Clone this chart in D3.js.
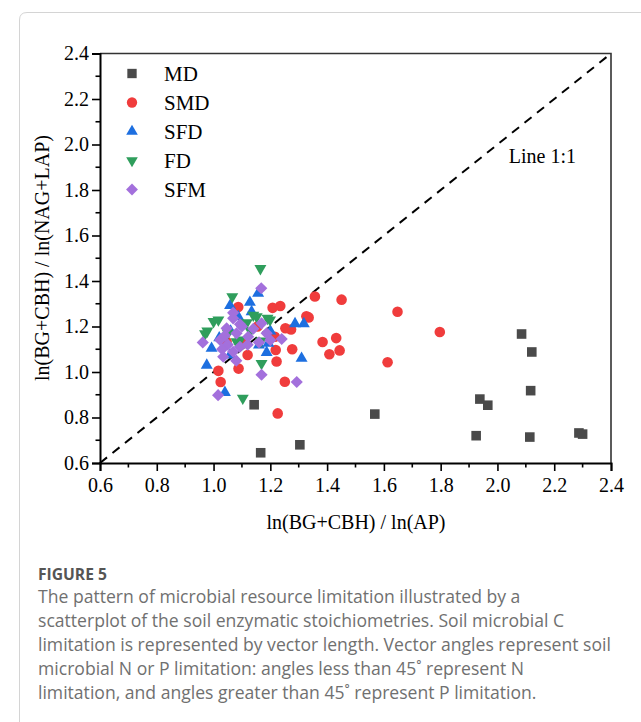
<!DOCTYPE html>
<html><head><meta charset="utf-8">
<script src="https://cdn.jsdelivr.net/npm/d3@7"></script>
<style>body{margin:0;background:#fff}svg{display:block}</style>
</head><body>
<script>
const seriesNames = ["MD","SMD","SFD","FD","SFM"];
const seriesColors = ["#4a4a4a","#f03c3c","#1d6fe0","#2f9e5c","#a370dc"];
const xTicks = [0.6,0.8,1.0,1.2,1.4,1.6,1.8,2.0,2.2,2.4];
const yTicks = [0.6,0.8,1.0,1.2,1.4,1.6,1.8,2.0,2.2,2.4];
const MD_x = [1.166,1.304,1.143,1.568,1.925,1.938,1.966,2.085,2.121,2.117,2.114,2.287,2.300];
const MD_y = [0.645,0.680,0.856,0.815,0.720,0.881,0.854,1.167,1.088,0.918,0.714,0.732,0.727];
const SMD_x = [1.017,1.025,1.088,1.087,1.046,1.120,1.208,1.235,1.327,1.335,1.357,1.451,1.648,1.797,1.432,1.444,1.408,1.613,1.384,1.277,1.219,1.222,1.251,1.226,1.273,1.253,1.216,1.155,1.100];
const SMD_y = [1.005,0.956,1.015,1.286,1.133,1.075,1.282,1.290,1.245,1.240,1.332,1.318,1.265,1.176,1.149,1.095,1.078,1.043,1.132,1.100,1.097,1.046,0.957,0.818,1.187,1.192,1.155,1.200,1.130];
const SFD_x = [0.976,1.040,0.993,1.058,1.128,1.157,1.134,1.287,1.318,1.310,1.187,1.193,1.160,1.058,1.087,1.020,1.200,1.060];
const SFD_y = [1.030,0.910,1.104,1.292,1.306,1.346,1.265,1.212,1.212,1.060,1.086,1.126,1.119,1.075,1.243,1.150,1.180,1.180];
const FD_x = [1.165,1.066,1.017,1.000,0.978,0.970,1.081,1.140,1.152,1.199,1.117,1.093,1.167,1.169,1.103,1.190,1.130,1.050];
const FD_y = [1.455,1.331,1.229,1.222,1.180,1.168,1.133,1.250,1.243,1.229,1.217,1.141,1.136,1.038,0.885,1.236,1.180,1.170];
const SFM_x = [0.962,1.016,1.168,1.169,1.293,1.240,1.169,1.069,1.046,1.081,1.034,1.069,1.122,1.187,1.093,1.023,1.069,1.093,1.100,1.140,1.050,1.080,1.120,1.030,1.160,1.200,1.040];
const SFM_y = [1.130,0.898,1.368,0.988,0.956,1.145,1.214,1.236,1.192,1.170,1.067,1.089,1.155,1.170,1.111,1.141,1.260,1.210,1.200,1.190,1.120,1.050,1.120,1.100,1.130,1.140,1.160];
const captionTitle = "FIGURE 5";
const captionLines = [
 "The pattern of microbial resource limitation illustrated by a",
 "scatterplot of the soil enzymatic stoichiometries. Soil microbial C",
 "limitation is represented by vector length. Vector angles represent soil",
 "microbial N or P limitation: angles less than 45\u02DA represent N",
 "limitation, and angles greater than 45\u02DA represent P limitation."
];

const W = 641, H = 722;
const svg = d3.select("body").append("svg").attr("width", W).attr("height", H);

svg.append("path").attr("d", "M19.5,722 L19.5,20 Q19.5,12.5 27,12.5 L641,12.5")
  .attr("fill","none").attr("stroke","#d4d4d4").attr("stroke-width",1);

const x = d3.scaleLinear().domain([0.6,2.4]).range([100,611]);
const y = d3.scaleLinear().domain([0.6,2.4]).range([463,53.5]);
const serif = "'Liberation Serif','Times New Roman',serif";

svg.append("path").attr("d", `M${x(0.6)},${y(2.4)} L${x(2.4)},${y(2.4)} L${x(2.4)},${y(0.6)}`)
  .attr("fill","none").attr("stroke","#333").attr("stroke-width",1.6);

const minor = d3.range(0.7,2.4,0.2);
const gx = svg.append("g").attr("transform",`translate(0,${y(0.6)})`)
  .call(d3.axisBottom(x).tickValues(xTicks).tickFormat(d3.format(".1f")).tickSize(8).tickPadding(7));
const gy = svg.append("g").attr("transform",`translate(${x(0.6)},0)`)
  .call(d3.axisLeft(y).tickValues(yTicks).tickFormat(d3.format(".1f")).tickSize(8).tickPadding(3));
[gx,gy].forEach(g=>{
  g.select(".domain").attr("stroke","#000").attr("stroke-width",2);
  g.selectAll(".tick line").attr("stroke","#000").attr("stroke-width",1.6);
  g.selectAll("text").attr("font-family",serif).attr("font-size",20).attr("fill","#000");
});
gx.selectAll(".minor").data(minor).enter().append("line").attr("class","minor")
  .attr("x1",d=>x(d)).attr("x2",d=>x(d)).attr("y1",0).attr("y2",4.5).attr("stroke","#000").attr("stroke-width",1.6);
gy.selectAll(".minor").data(minor).enter().append("line").attr("class","minor")
  .attr("y1",d=>y(d)).attr("y2",d=>y(d)).attr("x1",0).attr("x2",-4.5).attr("stroke","#000").attr("stroke-width",1.6);

svg.append("line").attr("x1",x(0.6)).attr("y1",y(0.6)).attr("x2",x(2.4)).attr("y2",y(2.4))
  .attr("stroke","#000").attr("stroke-width",2).attr("stroke-dasharray","9,7");
svg.append("text").attr("x",x(2.04)).attr("y",y(1.92)).attr("font-family",serif).attr("font-size",20).text("Line 1:1");

const shapes = [
  {type:d3.symbolSquare, size:92, rot:0},
  {type:d3.symbolCircle, size:88, rot:0},
  {type:d3.symbolTriangle, size:62, rot:0},
  {type:d3.symbolTriangle, size:62, rot:180},
  {type:d3.symbolSquare, size:74, rot:45}
];
const data = [[MD_x,MD_y],[SMD_x,SMD_y],[SFD_x,SFD_y],[FD_x,FD_y],[SFM_x,SFM_y]];
data.forEach((s,i)=>{
  const pts = s[0].map((v,j)=>({x:v,y:s[1][j]}));
  svg.append("g").selectAll("path").data(pts).enter().append("path")
    .attr("d", d3.symbol().type(shapes[i].type).size(shapes[i].size))
    .attr("transform", d=>`translate(${x(d.x)},${y(d.y)}) rotate(${shapes[i].rot})`)
    .attr("fill", seriesColors[i]);
});

const lg = svg.append("g");
seriesNames.forEach((n,i)=>{
  const yy = 73.5 + i*29;
  lg.append("path").attr("d", d3.symbol().type(shapes[i].type).size(shapes[i].size*0.95))
    .attr("transform",`translate(132,${yy}) rotate(${shapes[i].rot})`).attr("fill",seriesColors[i]);
  lg.append("text").attr("x",164).attr("y",yy+7.5).attr("font-family",serif).attr("font-size",21).text(n);
});

svg.append("text").attr("x",356).attr("y",529).attr("text-anchor","middle")
  .attr("font-family",serif).attr("font-size",20).text("ln(BG+CBH) / ln(AP)");
svg.append("text").attr("transform","translate(49,258) rotate(-90)").attr("text-anchor","middle")
  .attr("font-family",serif).attr("font-size",20).text("ln(BG+CBH) / ln(NAG+LAP)");

// caption: fit font size so the longest line spans the reference width
const sans = "'Open Sans',Lato,sans-serif";
const title = svg.append("text").attr("x",38).attr("y",580).attr("font-family",sans).attr("font-weight",700)
  .attr("font-size",16).attr("fill","#555").text(captionTitle);
const tw = title.node().getComputedTextLength();
title.attr("font-size", 16*69/tw);
const lines = captionLines.map((t,i)=> svg.append("text").attr("x",38).attr("y",603+i*24)
  .attr("font-family",sans).attr("font-size",17).attr("fill","#707070").text(t));
const lw = lines[2].node().getComputedTextLength();
const fs = 17*573/lw;
lines.forEach(l=>l.attr("font-size",fs));
</script>
</body></html>
